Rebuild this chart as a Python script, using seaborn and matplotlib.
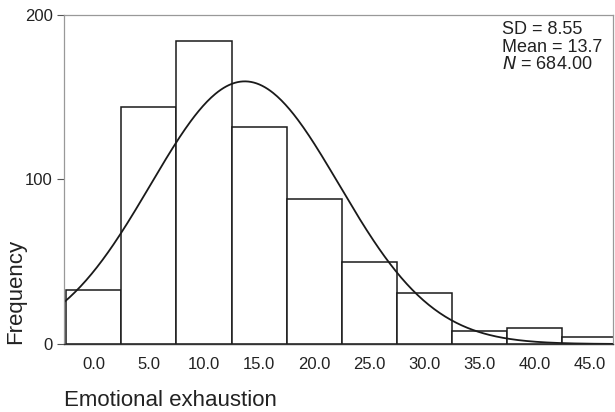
import numpy as np
import pandas as pd
import matplotlib
matplotlib.use("Agg")
import matplotlib.pyplot as plt
import seaborn as sns

# Data
bin_centers = [0.0, 5.0, 10.0, 15.0, 20.0, 25.0, 30.0, 35.0, 40.0, 45.0]
frequencies = [33, 144, 184, 132, 88, 50, 31, 8, 10, 4]
bin_width = 5.0
sd_value = 8.55
mean_value = 13.7
n_value = 684
x_tick_values = [0, 5, 10, 15, 20, 25, 30, 35, 40, 45]
x_tick_labels = ["0.0", "5.0", "10.0", "15.0", "20.0", "25.0", "30.0", "35.0", "40.0", "45.0"]
y_tick_values = [0, 100, 200]

sns.set_style("white")
plt.rcParams['font.family'] = ['Liberation Sans', 'DejaVu Sans']

fig = plt.figure(figsize=(6.15, 4.12), dpi=100)
ax = fig.add_axes([0.104, 0.165, 0.893, 0.799])

df = pd.DataFrame({"value": bin_centers, "count": frequencies})
edges = [c - bin_width / 2 for c in bin_centers] + [bin_centers[-1] + bin_width / 2]
sns.histplot(data=df, x="value", weights="count", bins=edges, ax=ax,
             color="white", edgecolor="#1a1a1a", linewidth=1.1, alpha=1.0)

# Fitted normal curve from the stated mean / SD / N
xs = np.linspace(-2.7, 47.1, 400)
ys = n_value * bin_width / (sd_value * np.sqrt(2 * np.pi)) * np.exp(-0.5 * ((xs - mean_value) / sd_value) ** 2)
sns.lineplot(x=xs, y=ys, ax=ax, color="#1a1a1a", linewidth=1.3)

ax.set_xlim(-2.7, 47.1)
ax.set_ylim(0, 200)
ax.set_xticks(x_tick_values)
ax.set_xticklabels(x_tick_labels, fontsize=12, color="#222")
ax.set_yticks(y_tick_values)
ax.set_yticklabels([str(v) for v in y_tick_values], fontsize=12, color="#222")
ax.tick_params(axis="y", left=True, length=5, width=0.8, color="#555", pad=3)
ax.tick_params(axis="x", bottom=False, pad=6)

for side in ["left", "top", "right"]:
    ax.spines[side].set_color("#999")
    ax.spines[side].set_linewidth(0.9)
ax.spines["bottom"].set_color("#333")
ax.spines["bottom"].set_linewidth(1.0)

ax.set_ylabel("Frequency", fontsize=16, loc="bottom", color="#222")
ax.yaxis.set_label_coords(-0.068, 0.0)
ax.set_xlabel("Emotional exhaustion", fontsize=16, loc="left", color="#222", labelpad=13)

ax.text(0.797, 0.954, f"SD = {sd_value:.2f}", transform=ax.transAxes, fontsize=13,
        va="center", ha="left", color="#222")
ax.text(0.797, 0.902, f"Mean = {mean_value}", transform=ax.transAxes, fontsize=13,
        va="center", ha="left", color="#222")
ax.text(0.797, 0.848, r"$\it{N}$" + f" = {n_value:.2f}", transform=ax.transAxes, fontsize=13,
        va="center", ha="left", color="#222")

fig.savefig("out.png", dpi=100)
